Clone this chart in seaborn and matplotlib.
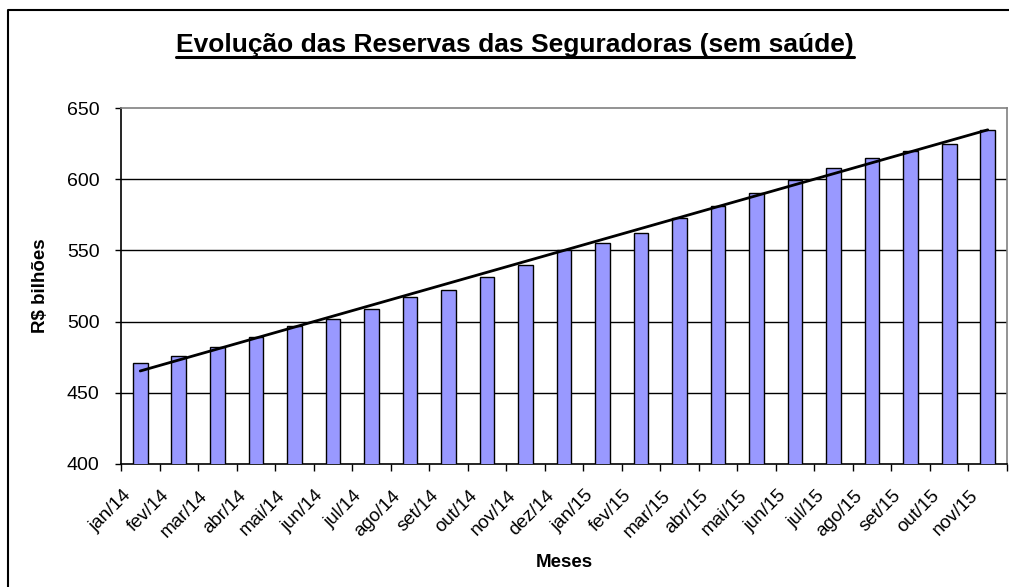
import matplotlib
matplotlib.use("Agg")
import matplotlib.pyplot as plt
import matplotlib.lines as mlines
import matplotlib.transforms as mtransforms
import seaborn as sns
import numpy as np
import pandas as pd

months = ["jan/14", "fev/14", "mar/14", "abr/14", "mai/14", "jun/14", "jul/14",
          "ago/14", "set/14", "out/14", "nov/14", "dez/14", "jan/15", "fev/15",
          "mar/15", "abr/15", "mai/15", "jun/15", "jul/15", "ago/15", "set/15",
          "out/15", "nov/15"]
reserves = [471, 476, 482, 489, 497, 502, 509, 517, 522.5, 531, 540, 550,
            555.5, 562.5, 572.5, 581, 590, 599.5, 608, 615, 620, 625, 634.5]
y_ticks = [400, 450, 500, 550, 600, 650]

title = "Evolução das Reservas das Seguradoras (sem saúde)"
x_label = "Meses"
y_label = "R$ bilhões"

sns.set_theme(style="white")
plt.rcParams['font.family'] = ['Liberation Sans', 'DejaVu Sans']
plt.rcParams['text.color'] = 'black'
plt.rcParams['axes.labelcolor'] = 'black'
plt.rcParams['xtick.color'] = 'black'
plt.rcParams['ytick.color'] = 'black'

df = pd.DataFrame({"mes": months, "valor": reserves})

fig = plt.figure(figsize=(10.09, 5.87), dpi=100)
ax = fig.add_axes([121/1009, 1 - 464/587, (1007 - 121)/1009, (464 - 108)/587])

sns.barplot(data=df, x="mes", y="valor", color="#9999FF", saturation=1,
            edgecolor="black", linewidth=1.0, width=0.38, ax=ax, zorder=3)

# linear trend line
xs = np.arange(len(reserves))
coef = np.polyfit(xs, reserves, 1)
ax.plot(xs, np.polyval(coef, xs), color="black", linewidth=2.0, zorder=4)

ax.set_ylim(400, 650)
ax.set_xlim(-0.5, len(months) - 0.5)
ax.set_yticks(y_ticks)
ax.set_yticklabels([str(v) for v in y_ticks], fontsize=14)
for v in y_ticks[1:-1]:
    ax.axhline(v, color="black", linewidth=1.0, zorder=1)

ax.set_xticks(xs)
ax.set_xticklabels(months, rotation=45, ha="right", va="center",
                   rotation_mode="anchor", fontsize=13.5)
ax.tick_params(axis="x", which="major", length=0, pad=21)
offset = mtransforms.ScaledTranslation(-12/100, 0, fig.dpi_scale_trans)
for lbl in ax.get_xticklabels():
    lbl.set_transform(lbl.get_transform() + offset)
ax.set_xticks(np.arange(-0.5, len(months)), minor=True)
ax.tick_params(axis="x", which="minor", length=5, width=1, color="black",
               direction="out", bottom=True)
ax.tick_params(axis="y", length=4.5, width=1, color="black", direction="out",
               left=True, pad=11)

for side in ["left", "bottom"]:
    ax.spines[side].set_color("black")
    ax.spines[side].set_linewidth(1.2)
for side in ["top", "right"]:
    ax.spines[side].set_color("#808080")
    ax.spines[side].set_linewidth(1.2)

ax.set_xlabel(x_label, fontsize=13.5, fontweight="bold", labelpad=10)
ax.set_ylabel(y_label, fontsize=13.5, fontweight="bold", labelpad=13)

fig.text(515/1009, 1 - 45/587, title, ha="center", va="center",
         fontsize=19, fontweight="bold")
# underline
fig.add_artist(mlines.Line2D([176/1009, 854/1009], [1 - 57/587, 1 - 57/587],
                             color="black", linewidth=2.2))

# chart border (left and top)
fig.add_artist(mlines.Line2D([8/1009, 8/1009, 1.0], [0.0, 1 - 10/587, 1 - 10/587],
                             color="black", linewidth=1.5))

fig.savefig("out.png", dpi=100)
